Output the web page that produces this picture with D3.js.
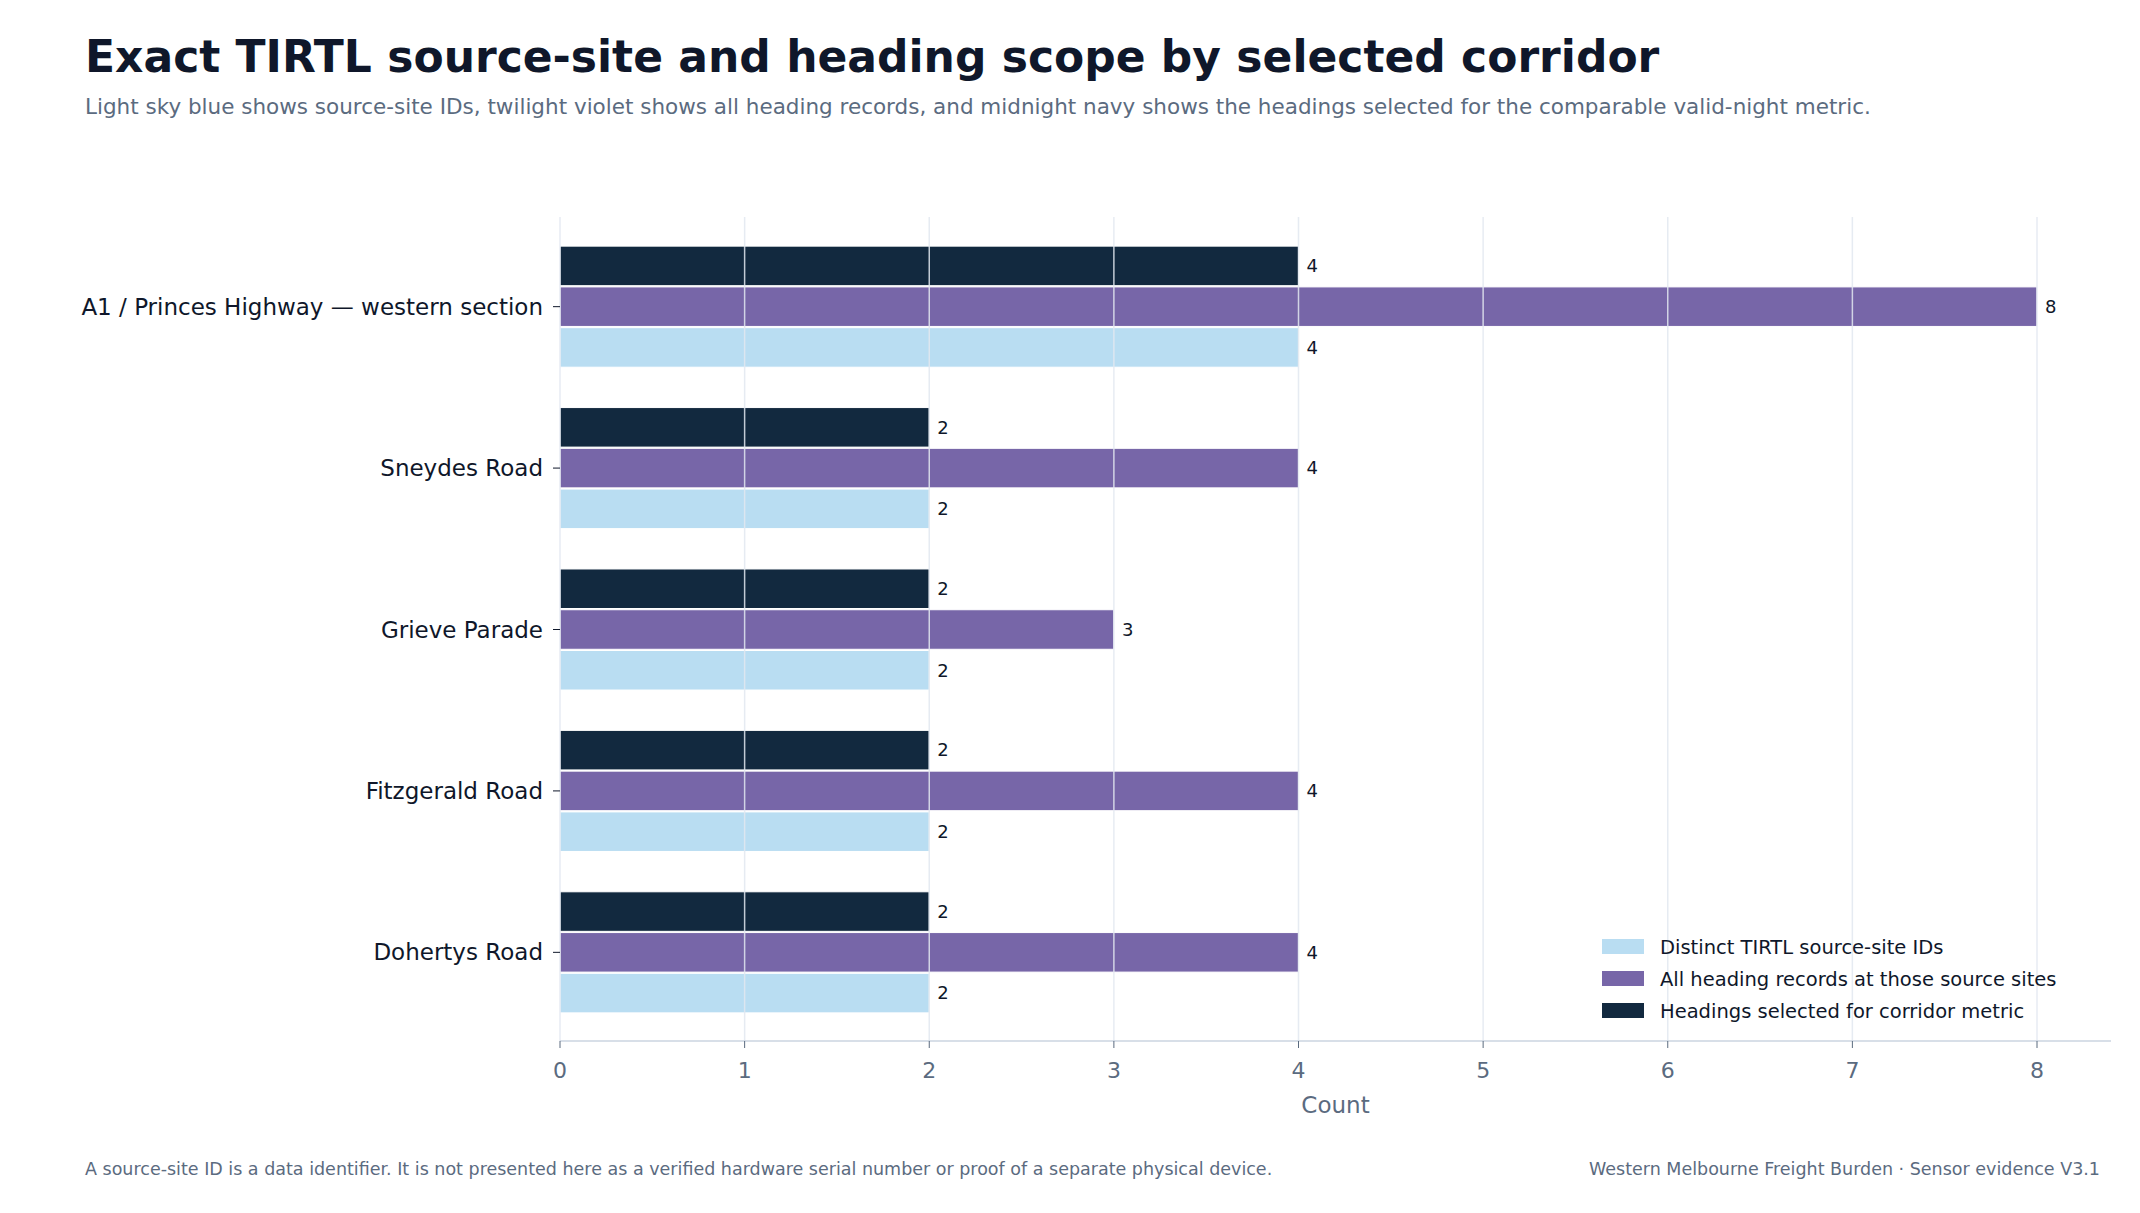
<!DOCTYPE html>
<html><head><meta charset="utf-8">
<script src="https://cdn.jsdelivr.net/npm/d3@7"></script>
<style>body{margin:0;background:#fff;font-family:"DejaVu Sans",sans-serif;}</style>
</head><body><div id="chart"></div>
<script>
const corridors = ["A1 / Princes Highway — western section", "Sneydes Road", "Grieve Parade", "Fitzgerald Road", "Dohertys Road"];
const sourceSites = [4, 2, 2, 2, 2];
const headingRecords = [8, 4, 3, 4, 4];
const selectedHeadings = [4, 2, 2, 2, 2];
const seriesNames = ["Headings selected for corridor metric", "All heading records at those source sites", "Distinct TIRTL source-site IDs"];
const seriesColors = ["#12293f", "#7766a8", "#b9ddf2"];
const xTicks = [0, 1, 2, 3, 4, 5, 6, 7, 8];

(function () {
const W = 2140, H = 1213;
const svg = d3.select("#chart").append("svg").attr("width", W).attr("height", H);

svg.append("text").attr("x", 85).attr("y", 72).attr("font-size", 44).attr("font-weight", "bold")
    .attr("fill", "#0f172a").text("Exact TIRTL source-site and heading scope by selected corridor");
svg.append("text").attr("x", 85).attr("y", 114).attr("font-size", 21.5).attr("fill", "#5b6b7f")
    .text("Light sky blue shows source-site IDs, twilight violet shows all heading records, and midnight navy shows the headings selected for the comparable valid-night metric.");

const pLeft = 560, pRight = 2111, pTop = 217, pBottom = 1041;
const x = d3.scaleLinear().domain([0, 8.4]).range([pLeft, pLeft + 8.4 * (2037 - 560) / 8]);
const y = d3.scaleBand().domain(corridors).range([pTop + 13, pBottom - 12]).paddingInner(0.25).paddingOuter(0.1);
const series = [selectedHeadings, headingRecords, sourceSites];
const sub = d3.scaleBand().domain(d3.range(3)).range([0, y.bandwidth()]).paddingInner(0.03);

// bars
corridors.forEach((c, i) => {
    series.forEach((vals, s) => {
        svg.append("rect").attr("x", x(0)).attr("y", y(c) + sub(s))
            .attr("width", x(vals[i]) - x(0)).attr("height", sub.bandwidth())
            .attr("fill", seriesColors[s]).attr("stroke", "#fff").attr("stroke-width", 1);
        svg.append("text").attr("x", x(vals[i]) + 8).attr("y", y(c) + sub(s) + sub.bandwidth() / 2)
            .attr("dy", "0.35em").attr("font-size", 18).attr("fill", "#0f172a").text(vals[i]);
    });
});

// grid over bars
svg.append("g").selectAll("line").data(xTicks).join("line")
    .attr("x1", d => x(d)).attr("x2", d => x(d)).attr("y1", pTop).attr("y2", pBottom)
    .attr("stroke", "#e2e8f0").attr("stroke-opacity", 0.85).attr("stroke-width", 1.5);

// x axis
svg.append("line").attr("x1", pLeft).attr("x2", pRight).attr("y1", pBottom).attr("y2", pBottom)
    .attr("stroke", "#cbd5e1").attr("stroke-width", 1.5);
xTicks.forEach(t => {
    svg.append("line").attr("x1", x(t)).attr("x2", x(t)).attr("y1", pBottom).attr("y2", pBottom + 7).attr("stroke", "#5b6b7f");
    svg.append("text").attr("x", x(t)).attr("y", pBottom + 37).attr("text-anchor", "middle")
        .attr("font-size", 22).attr("fill", "#5b6b7f").text(t);
});
svg.append("text").attr("x", (pLeft + pRight) / 2).attr("y", 1113).attr("text-anchor", "middle")
    .attr("font-size", 23).attr("fill", "#5b6b7f").text("Count");

// y axis labels
corridors.forEach(c => {
    const cy = y(c) + y.bandwidth() / 2;
    svg.append("line").attr("x1", pLeft - 7).attr("x2", pLeft).attr("y1", cy).attr("y2", cy).attr("stroke", "#0f172a");
    svg.append("text").attr("x", pLeft - 17).attr("y", cy).attr("dy", "0.35em").attr("text-anchor", "end")
        .attr("font-size", 23).attr("fill", "#0f172a").text(c);
});

// legend
[2, 1, 0].forEach((s, k) => {
    const ly = 947 + k * 32;
    svg.append("rect").attr("x", 1602).attr("y", ly - 8).attr("width", 42).attr("height", 15).attr("fill", seriesColors[s]);
    svg.append("text").attr("x", 1660).attr("y", ly).attr("dy", "0.35em").attr("font-size", 19.5)
        .attr("fill", "#0f172a").text(seriesNames[s]);
});

// footer
svg.append("text").attr("x", 85).attr("y", 1175).attr("font-size", 17.5).attr("fill", "#5b6b7f")
    .text("A source-site ID is a data identifier. It is not presented here as a verified hardware serial number or proof of a separate physical device.");
svg.append("text").attr("x", 2100).attr("y", 1175).attr("text-anchor", "end").attr("font-size", 17.5).attr("fill", "#5b6b7f")
    .text("Western Melbourne Freight Burden · Sensor evidence V3.1");
})();
</script></body></html>
